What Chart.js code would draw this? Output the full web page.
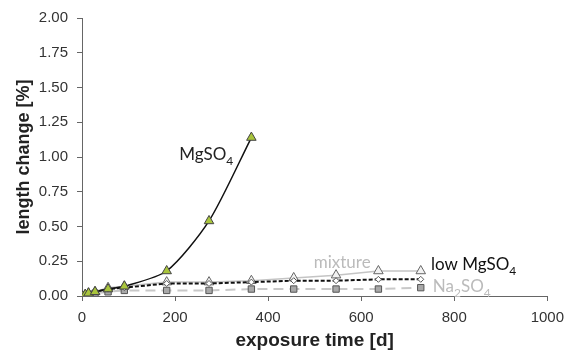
<!DOCTYPE html>
<html>
<head>
<meta charset="utf-8">
<script src="https://cdn.jsdelivr.net/npm/chart.js@4"></script>
<style>
  html, body { margin: 0; padding: 0; background: #fff; }
  #wrap { width: 572px; height: 355px; }
</style>
</head>
<body>
<div id="wrap"><canvas id="chart" width="572" height="355"></canvas></div>
<script>
// exposure time in days
const days = [0, 7, 14, 28, 56, 91, 182, 273, 364, 455, 546, 637, 728];

// length change in %
const mgso4    = [0, 0.01, 0.02, 0.03, 0.05, 0.07, 0.18, 0.54, 1.14];
const mixture  = [0, 0.01, 0.02, 0.03, 0.06, 0.07, 0.10, 0.10, 0.11, 0.13, 0.15, 0.18, 0.18];
const lowMgso4 = [0, 0.01, 0.02, 0.03, 0.05, 0.06, 0.09, 0.09, 0.10, 0.11, 0.11, 0.12, 0.12];
const na2so4   = [0, 0.01, 0.01, 0.02, 0.03, 0.04, 0.04, 0.04, 0.05, 0.05, 0.05, 0.05, 0.06];

const yTicks = [0, 0.25, 0.5, 0.75, 1, 1.25, 1.5, 1.75, 2];

function pts(vals) {
    return vals.map((v, i) => ({ x: days[i], y: v }));
}

// series labels written next to the curves, [text, isSubscript]
const seriesLabels = [
    { parts: [['MgSO', false], ['4', true]], day: 209, val: 0.975, color: '#222' },
    { parts: [['mixture', false]], day: 498, val: 0.205, color: '#bbbbbb' },
    { parts: [['low MgSO', false], ['4', true]], day: 750, val: 0.185, color: '#111' },
    { parts: [['Na', false], ['2', true], ['SO', false], ['4', true]], day: 754, val: 0.03, color: '#bbbbbb' }
];

const labelPlugin = {
    id: 'seriesLabels',
    afterDatasetsDraw(chart) {
        const ctx = chart.ctx;
        const xs = chart.scales.x, ys = chart.scales.y;
        ctx.save();
        ctx.textBaseline = 'alphabetic';
        seriesLabels.forEach(lab => {
            let x = xs.getPixelForValue(lab.day);
            const y = ys.getPixelForValue(lab.val);
            ctx.fillStyle = lab.color;
            lab.parts.forEach(([txt, sub]) => {
                ctx.font = sub ? '12px Lato' : '17px Lato';
                ctx.fillText(txt, x, sub ? y + 5 : y);
                x += ctx.measureText(txt).width;
            });
        });
        ctx.restore();
    }
};

new Chart(document.getElementById('chart'), {
    type: 'scatter',
    data: {
        datasets: [
            {
                label: 'MgSO4',
                data: pts(mgso4),
                showLine: true,
                borderColor: '#111',
                borderWidth: 1.5,
                tension: 0.25,
                pointStyle: 'triangle',
                pointRadius: 5.5,
                pointBackgroundColor: '#a9c53c',
                pointBorderColor: '#444',
                pointBorderWidth: 1
            },
            {
                label: 'low MgSO4',
                data: pts(lowMgso4),
                showLine: true,
                borderColor: '#111',
                borderWidth: 2,
                borderDash: [4, 2],
                pointStyle: 'rectRot',
                pointRadius: 3,
                pointBackgroundColor: '#fff',
                pointBorderColor: '#555',
                pointBorderWidth: 1
            },
            {
                label: 'mixture',
                data: pts(mixture),
                showLine: true,
                borderColor: '#c4c4c4',
                borderWidth: 1.5,
                pointStyle: 'triangle',
                pointRadius: 5.5,
                pointBackgroundColor: '#f2f2f2',
                pointBorderColor: '#666',
                pointBorderWidth: 1
            },
            {
                label: 'Na2SO4',
                data: pts(na2so4),
                showLine: true,
                borderColor: '#c8c8c8',
                borderWidth: 2,
                borderDash: [10, 6],
                pointStyle: 'rect',
                pointRadius: 4.5,
                pointBackgroundColor: '#a8a8a8',
                pointBorderColor: '#555',
                pointBorderWidth: 1
            }
        ]
    },
    options: {
        responsive: false,
        animation: false,
        events: [],
        layout: { padding: { top: 15, right: 22, left: 0, bottom: 0 } },
        plugins: {
            legend: { display: false },
            tooltip: { enabled: false }
        },
        scales: {
            x: {
                type: 'linear',
                min: 0,
                max: 1000,
                ticks: {
                    stepSize: 200,
                    color: '#333',
                    padding: 8,
                    font: { family: 'Liberation Sans', size: 15 },
                    callback: v => String(v)
                },
                grid: {
                    drawOnChartArea: false,
                    tickLength: 5,
                    color: '#666'
                },
                border: { color: '#666', width: 1 },
                title: {
                    display: true,
                    text: 'exposure time [d]',
                    color: '#222',
                    font: { family: 'Liberation Sans', size: 19, weight: 'bold' },
                    padding: { top: 0, bottom: 3 }
                },
                afterFit(scale) { scale.height = 59; }
            },
            y: {
                type: 'linear',
                min: 0,
                max: 2,
                afterBuildTicks(scale) {
                    scale.ticks = yTicks.map(v => ({ value: v }));
                },
                ticks: {
                    color: '#333',
                    padding: 9,
                    font: { family: 'Liberation Sans', size: 15 },
                    callback: v => Number(v).toFixed(2)
                },
                grid: {
                    drawOnChartArea: false,
                    tickLength: 5,
                    color: '#666'
                },
                border: { color: '#666', width: 1 },
                title: {
                    display: true,
                    text: 'length change [%]',
                    color: '#222',
                    font: { family: 'Liberation Sans', size: 18, weight: 'bold' },
                    padding: { top: 13, bottom: 0 }
                },
                afterFit(scale) { scale.width = 82; }
            }
        }
    },
    plugins: [labelPlugin]
});
</script>
</body>
</html>
